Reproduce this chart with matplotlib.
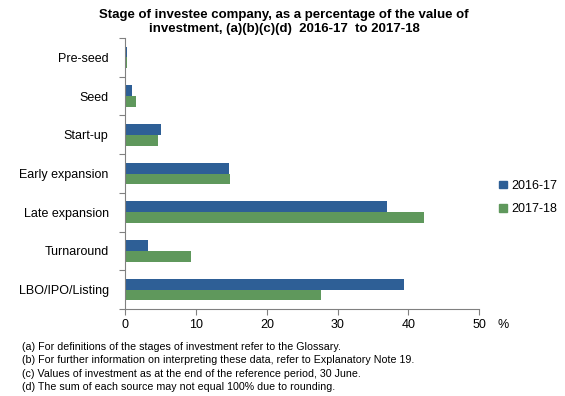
import numpy as np
import matplotlib.pyplot as plt
from matplotlib.patches import Patch

plt.rcParams['font.family'] = ['Liberation Sans', 'DejaVu Sans']

# chart data
stages = ['Pre-seed', 'Seed', 'Start-up', 'Early expansion',
          'Late expansion', 'Turnaround', 'LBO/IPO/Listing']
pct_2016_17 = [0.3, 1.0, 5.0, 14.6, 37.0, 3.2, 39.4]
pct_2017_18 = [0.2, 1.5, 4.6, 14.8, 42.2, 9.3, 27.6]
series_labels = ['2016-17', '2017-18']
x_ticks = [0, 10, 20, 30, 40, 50]

blue = '#2E5F96'
green = '#5F985C'

fig = plt.figure(figsize=(5.65, 3.96), dpi=100)
ax = fig.add_axes([0.2218, 0.2197, 0.6262, 0.6843])

y = np.arange(len(stages))
h = 0.28
ax.barh(y - h / 2, pct_2016_17, height=h, color=blue)
ax.barh(y + h / 2, pct_2017_18, height=h, color=green)

ax.set_ylim(len(stages) - 0.5, -0.5)
ax.set_xlim(0, 50)
ax.set_xticks(x_ticks)
ax.set_xticklabels([str(t) for t in x_ticks], fontsize=9)
ax.set_yticks(np.arange(len(stages) + 1) - 0.5, minor=False)
ax.set_yticklabels([])
ax.set_yticks(y, minor=True)
ax.set_yticklabels(stages, minor=True, fontsize=9)
ax.tick_params(axis='y', which='minor', length=0, pad=12)
ax.tick_params(axis='y', which='major', length=4, color='#808080', direction='out')
ax.tick_params(axis='x', length=4, color='#808080', pad=3)

for s in ['top', 'right']:
    ax.spines[s].set_visible(False)
for s in ['left', 'bottom']:
    ax.spines[s].set_color('#808080')

fig.text(498 / 565, 1 - 325 / 396, '%', fontsize=9, va='center')

fig.text(284 / 565, 1 - 22 / 396,
         'Stage of investee company, as a percentage of the value of\n'
         'investment, (a)(b)(c)(d)  2016-17  to 2017-18',
         ha='center', va='center', fontsize=9.5, fontweight='bold', linespacing=1.2)

handles = [Patch(color=blue), Patch(color=green)]
fig.legend(handles, series_labels, loc='center left',
           bbox_to_anchor=(488 / 565, 1 - 197.5 / 396), frameon=False,
           fontsize=9, handlelength=0.6, handleheight=0.6, handletextpad=0.4,
           labelspacing=0.9)

notes = ['(a) For definitions of the stages of investment refer to the Glossary.',
         '(b) For further information on interpreting these data, refer to Explanatory Note 19.',
         '(c) Values of investment as at the end of the reference period, 30 June.',
         '(d) The sum of each source may not equal 100% due to rounding.']
for i, n in enumerate(notes):
    fig.text(22 / 565, 1 - (347 + i * 13.4) / 396, n, fontsize=7.7, va='center')

fig.savefig('out.png', dpi=100)
